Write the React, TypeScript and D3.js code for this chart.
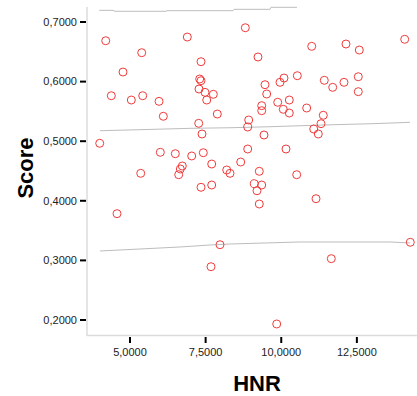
import React from "react";
import * as d3 from "d3";

const hnr = [4.197,6.894,5.387,4.769,7.347,4.382,5.043,5.42,5.959,6.101,7.304,7.347,7.281,7.479,7.536,7.754,7.271,7.38,3.998,6.002,6.498,7.04,7.423,5.354,6.729,6.663,6.61,7.701,7.347,7.701,4.57,7.678,8.812,11.007,12.14,12.58,14.081,9.231,10.531,10.091,9.959,9.463,11.423,11.701,12.074,12.547,12.547,9.519,10.266,9.883,9.354,9.354,10.068,10.266,10.841,7.886,8.924,8.891,11.39,11.314,11.073,11.225,9.43,8.891,10.157,8.66,8.197,8.306,9.274,10.511,9.109,9.354,9.198,11.149,9.274,7.975,11.655,14.266,9.85];
const score = [0.6686,0.6748,0.6485,0.6161,0.6334,0.5763,0.5691,0.5763,0.5669,0.5418,0.6044,0.6015,0.5876,0.582,0.5691,0.5787,0.53,0.5121,0.4965,0.4814,0.479,0.4752,0.4807,0.4461,0.4584,0.4534,0.4438,0.4617,0.4227,0.4265,0.3784,0.2894,0.6904,0.6592,0.6631,0.653,0.671,0.6413,0.6099,0.606,0.5988,0.5948,0.6022,0.5904,0.5988,0.6082,0.5831,0.5792,0.5691,0.5653,0.5596,0.5512,0.5535,0.5473,0.5557,0.5456,0.5356,0.5238,0.5435,0.5294,0.5205,0.5121,0.5104,0.4869,0.4869,0.4651,0.4517,0.4461,0.4495,0.4438,0.4287,0.4265,0.4169,0.4035,0.3946,0.3263,0.3029,0.3304,0.1933];

const upperX = [3.985,4.438,4.504,6.19,6.223,8.405,8.438,9.628,9.661,10.521];
const upperY = [0.7196,0.7196,0.718,0.718,0.719,0.719,0.7213,0.7213,0.7247,0.7247];
const midX = [4.008,5.331,6.983,8.306,9.628,11.38,13.033,14.256];
const midY = [0.5176,0.5193,0.5216,0.5226,0.5243,0.5272,0.5294,0.5317];
const lowX = [4.008,5.331,6.653,7.645,8.306,10.62,13.595,14.256];
const lowY = [0.3158,0.3191,0.3225,0.3258,0.3275,0.3309,0.3309,0.3292];

const xTicks = [5, 7.5, 10, 12.5];
const yTicks = [0.2, 0.3, 0.4, 0.5, 0.6, 0.7];

const fmt = (v: number) => v.toFixed(4).replace(".", ",");

export default function App() {
  const x = d3.scaleLinear().domain([3.578, 14.488]).range([87, 417]);
  const y = d3.scaleLinear().domain([0.1748, 0.7252]).range([335, 7]);
  const line = d3.line<[number, number]>().x(d => x(d[0])).y(d => y(d[1]));
  const mk = (xs: number[], ys: number[]) => xs.map((v, i) => [v, ys[i]] as [number, number]);
  const font = "Arial, 'Liberation Sans', Helvetica, sans-serif";
  return (
    <svg width={417} height={396} style={{ position: "absolute", left: 0, top: 0 }} fontFamily={font}>
      <rect width={417} height={396} fill="#fff" />
      {[mk(upperX, upperY), mk(midX, midY), mk(lowX, lowY)].map((p, i) => (
        <path key={i} d={line(p) || ""} fill="none" stroke="#bdbdbd" strokeWidth={1} />
      ))}
      <line x1={87} x2={87} y1={7} y2={336} stroke="#dcdcdc" strokeWidth={1.5} />
      <line x1={87} x2={417} y1={335.5} y2={335.5} stroke="#dcdcdc" strokeWidth={1.5} />
      {yTicks.map(t => (
        <g key={t}>
          <line x1={80} x2={86} y1={y(t)} y2={y(t)} stroke="#000" strokeWidth={2} />
          <text x={77} y={y(t)} dy="0.35em" textAnchor="end" fontSize={11} fill="#222">{fmt(t)}</text>
        </g>
      ))}
      {xTicks.map(t => (
        <g key={t}>
          <line x1={x(t)} x2={x(t)} y1={337} y2={343} stroke="#000" strokeWidth={2} />
          <text x={x(t)} y={356} textAnchor="middle" fontSize={11} fill="#222">{fmt(t)}</text>
        </g>
      ))}
      {hnr.map((v, i) => (
        <circle key={i} cx={x(v)} cy={y(score[i])} r={4} fill="none" stroke="#f03c3c" strokeWidth={1} />
      ))}
      <text x={257} y={391} textAnchor="middle" fontSize={22} fontWeight="bold" fill="#000">HNR</text>
      <text transform="translate(33,168) rotate(-90)" textAnchor="middle" fontSize={22} fontWeight="bold" fill="#000">Score</text>
    </svg>
  );
}
